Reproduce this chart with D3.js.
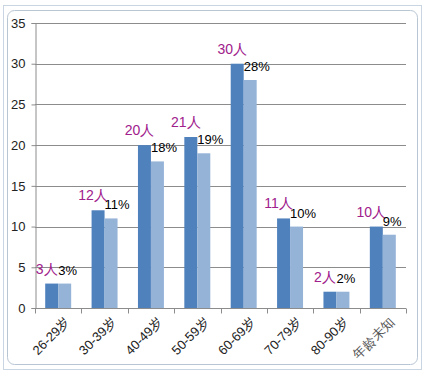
<!DOCTYPE html>
<html>
<head>
<meta charset="utf-8">
<script src="https://cdn.jsdelivr.net/npm/d3@7"></script>
<style>
  body { margin: 0; background: #fff; }
  svg { display: block; font-family: "Liberation Sans", Arial, sans-serif; }
</style>
</head>
<body>
<svg id="chart" width="426" height="374"></svg>
<script>
const categories = ['26-29岁', '30-39岁', '40-49岁', '50-59岁', '60-69岁', '70-79岁', '80-90岁', '年龄未知'];
const counts = [3, 12, 20, 21, 30, 11, 2, 10];
const percents = [3, 11, 18, 19, 28, 10, 2, 9];
const yTicks = [0, 5, 10, 15, 20, 25, 30, 35];

const W = 426, H = 374;
const margin = { left: 35, right: 20, top: 23, bottom: 66 };
const svg = d3.select('#chart');

// window frame
svg.append('rect')
    .attr('x', 3.5).attr('y', 5.5).attr('width', 418).attr('height', 364)
    .attr('fill', 'none').attr('stroke', '#c9d5e2');
svg.append('rect')
    .attr('x', 7.5).attr('y', 10.5).attr('width', 410).attr('height', 354)
    .attr('rx', 7)
    .attr('fill', '#fff').attr('stroke', '#b8c6d4');

const x = d3.scaleBand()
    .domain(categories)
    .range([margin.left, W - margin.right])
    .paddingInner(0.44)
    .paddingOuter(0.22);
const xSub = d3.scaleBand()
    .domain(['count', 'pct'])
    .range([0, x.bandwidth()]);
const y = d3.scaleLinear()
    .domain([0, 35])
    .range([H - margin.bottom, margin.top]);

// gridlines
svg.append('g')
    .selectAll('line')
    .data(yTicks.filter(d => d > 0))
    .join('line')
    .attr('x1', margin.left).attr('x2', W - margin.right)
    .attr('y1', d => Math.round(y(d)) + 0.5).attr('y2', d => Math.round(y(d)) + 0.5)
    .attr('stroke', '#8c8c8c');

// y axis
const yAxis = svg.append('g')
    .attr('transform', `translate(${margin.left + 0.5},0)`)
    .call(d3.axisLeft(y).tickValues(yTicks).tickSize(4).tickPadding(6));
yAxis.select('.domain').attr('stroke', '#8c8c8c');
yAxis.selectAll('line').attr('stroke', '#8c8c8c');
yAxis.selectAll('text')
    .attr('font-size', 13)
    .attr('fill', '#222')
    .attr('font-family', '"Liberation Sans", Arial, sans-serif');

// x axis line + ticks at category boundaries
const base = Math.round(y(0)) + 0.5;
svg.append('line')
    .attr('x1', margin.left).attr('x2', W - margin.right)
    .attr('y1', base).attr('y2', base)
    .attr('stroke', '#8c8c8c');
const step = x.step();
const x0 = x(categories[0]) - x.paddingOuter() * step;
svg.append('g')
    .selectAll('line')
    .data(d3.range(categories.length + 1))
    .join('line')
    .attr('x1', i => Math.round(x0 + i * step) + 0.5)
    .attr('x2', i => Math.round(x0 + i * step) + 0.5)
    .attr('y1', base).attr('y2', base + 5)
    .attr('stroke', '#8c8c8c');

// x labels
svg.append('g')
    .selectAll('text')
    .data(categories)
    .join('text')
    .attr('transform', d => `translate(${x(d) + x.bandwidth() / 2 + 6},${base + 8}) rotate(-45)`)
    .attr('text-anchor', 'end')
    .attr('dy', '0.7em')
    .attr('font-size', 13)
    .attr('fill', (d, i) => i === categories.length - 1 ? '#555' : '#222')
    .text(d => d);

// bars
const groups = svg.append('g')
    .selectAll('g')
    .data(categories)
    .join('g')
    .attr('transform', d => `translate(${x(d)},0)`);

groups.append('rect')
    .attr('x', xSub('count'))
    .attr('y', (d, i) => y(counts[i]))
    .attr('width', xSub.bandwidth())
    .attr('height', (d, i) => y(0) - y(counts[i]))
    .attr('fill', '#4f81bd');

groups.append('rect')
    .attr('x', xSub('pct'))
    .attr('y', (d, i) => y(percents[i]))
    .attr('width', xSub.bandwidth())
    .attr('height', (d, i) => y(0) - y(percents[i]))
    .attr('fill', '#95b3d7');

// labels
groups.append('text')
    .attr('x', xSub('count') + xSub.bandwidth() / 2 - 5)
    .attr('y', (d, i) => y(counts[i]) - 10)
    .attr('text-anchor', 'middle')
    .attr('font-size', 14)
    .attr('fill', '#a0208c')
    .text((d, i) => counts[i] + '人');

groups.append('text')
    .attr('x', xSub('pct'))
    .attr('y', (d, i) => y(percents[i]) - 9)
    .attr('font-size', 13)
    .attr('fill', '#000')
    .text((d, i) => percents[i] + '%');
</script>
</body>
</html>
